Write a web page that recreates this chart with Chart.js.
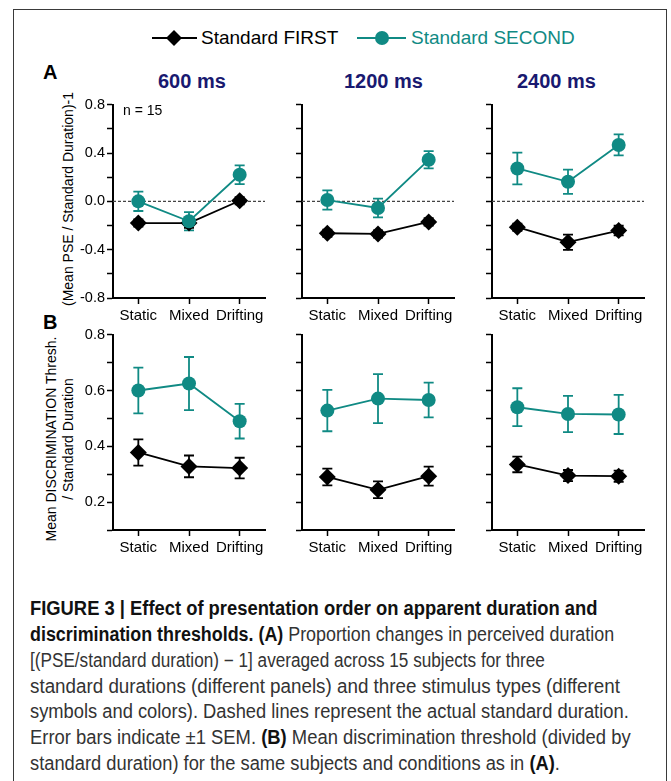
<!DOCTYPE html>
<html>
<head>
<meta charset="utf-8">
<script src="https://cdn.jsdelivr.net/npm/chart.js@4.4.0/dist/chart.umd.min.js"></script>
<style>
html,body{margin:0;padding:0;background:#fff;}
body{width:671px;height:781px;position:relative;overflow:hidden;font-family:"Liberation Sans",Arial,Helvetica,sans-serif;}
.abs{position:absolute;white-space:nowrap;}
.frame{position:absolute;left:13px;top:9px;width:654px;height:820px;border:1px solid #3a3a3a;box-sizing:border-box;}
.box{position:absolute;}
.title{font-weight:bold;font-size:20px;line-height:24px;color:#191970;}
.letter{font-weight:bold;font-size:20px;line-height:24px;color:#000;}
.leg{font-size:19px;line-height:22px;}
.ytitle{position:absolute;font-size:14px;line-height:17px;color:#000;white-space:nowrap;text-align:center;transform:translate(-50%,-50%) rotate(-90deg);}
.cap{position:absolute;left:30px;white-space:nowrap;font-family:"Liberation Sans",Arial,sans-serif;font-size:19.5px;line-height:26px;height:26px;color:#333;transform-origin:0 50%;}
.cap b{color:#111;}
</style>
</head>
<body>
<div class="frame"></div>

<!-- legend -->
<svg class="abs" style="left:150px;top:28px" width="52" height="20">
  <line x1="2" y1="10" x2="47" y2="10" stroke="#000" stroke-width="2"/>
  <polygon points="24,2 32,10 24,18 16,10" fill="#000"/>
</svg>
<div class="abs leg" id="leg1" style="left:201px;top:27px;color:#000"></div>
<svg class="abs" style="left:355px;top:28px" width="54" height="20">
  <line x1="2" y1="10" x2="51" y2="10" stroke="#108a84" stroke-width="2"/>
  <circle cx="27" cy="10" r="7" fill="#108a84"/>
</svg>
<div class="abs leg" id="leg2" style="left:411px;top:27px;color:#108a84"></div>

<div class="abs letter" style="left:43px;top:60px">A</div>
<div class="abs letter" style="left:43px;top:310px">B</div>

<div class="abs title" id="t0" style="left:158px;top:69px"></div>
<div class="abs title" id="t1" style="left:344px;top:69px"></div>
<div class="abs title" id="t2" style="left:517px;top:69px"></div>

<div class="ytitle" style="left:68px;top:199px">(Mean PSE / Standard Duration)-1</div>
<div class="ytitle" style="left:59.5px;top:439px">Mean DISCRIMINATION Thresh.<br>/ Standard Duration</div>

<div id="charts"></div>

<div class="abs" style="left:123px;top:101px;font-size:14px;line-height:18px;color:#000">n = 15</div>

<div class="cap" style="top:595px"><b>FIGURE 3 | Effect of presentation order on apparent duration and</b></div>
<div class="cap" style="top:621px"><b>discrimination thresholds. (A)</b> Proportion changes in perceived duration</div>
<div class="cap" style="top:647px">[(PSE/standard duration) − 1] averaged across 15 subjects for three</div>
<div class="cap" style="top:673px">standard durations (different panels) and three stimulus types (different</div>
<div class="cap" style="top:698px">symbols and colors). Dashed lines represent the actual standard duration.</div>
<div class="cap" style="top:724px">Error bars indicate ±1 SEM. <b>(B)</b> Mean discrimination threshold (divided by</div>
<div class="cap" style="top:750px">standard duration) for the same subjects and conditions as in <b>(A)</b>.</div>

<script>
// ---------------- data ----------------
const categories = ['Static', 'Mixed', 'Drifting'];
const durationTitles = ['600 ms', '1200 ms', '2400 ms'];
const seriesNames = ['Standard FIRST', 'Standard SECOND'];

// Panel A: (Mean PSE / Standard Duration) - 1
const pseFirst600 = [-0.18, -0.18, 0.005];
const pseFirst600Err = [0.03, 0.04, 0.03];
const pseSecond600 = [0.0, -0.165, 0.22];
const pseSecond600Err = [0.08, 0.075, 0.077];

const pseFirst1200 = [-0.264, -0.27, -0.17];
const pseFirst1200Err = [0.03, 0.03, 0.03];
const pseSecond1200 = [0.011, -0.055, 0.344];
const pseSecond1200Err = [0.08, 0.077, 0.071];

const pseFirst2400 = [-0.214, -0.338, -0.242];
const pseFirst2400Err = [0.03, 0.063, 0.04];
const pseSecond2400 = [0.272, 0.162, 0.467];
const pseSecond2400Err = [0.132, 0.10, 0.087];

// Panel B: Mean discrimination threshold / standard duration
const thrFirst600 = [0.378, 0.328, 0.322];
const thrFirst600Err = [0.047, 0.039, 0.037];
const thrSecond600 = [0.60, 0.625, 0.49];
const thrSecond600Err = [0.082, 0.095, 0.062];

const thrFirst1200 = [0.29, 0.244, 0.293];
const thrFirst1200Err = [0.03, 0.03, 0.034];
const thrSecond1200 = [0.528, 0.571, 0.566];
const thrSecond1200Err = [0.074, 0.088, 0.062];

const thrFirst2400 = [0.335, 0.295, 0.293];
const thrFirst2400Err = [0.028, 0.02, 0.02];
const thrSecond2400 = [0.54, 0.516, 0.514];
const thrSecond2400Err = [0.068, 0.065, 0.07];

// tick labels
const pseTickLabels = ['-0.8', '-0.4', '0.0', '0.4', '0.8'];
const thrTickLabels = ['0.2', '0.4', '0.6', '0.8'];

// ---------------- text ----------------
document.getElementById('leg1').textContent = seriesNames[0];
document.getElementById('leg2').textContent = seriesNames[1];
durationTitles.forEach((t, i) => document.getElementById('t' + i).textContent = t);

// caption: compress horizontally towards the reference line lengths
const capTargets = [573, 574, 486, 610, 603, 608, 533];
const capEls = Array.from(document.querySelectorAll('.cap'));
const naturals = capEls.map(el => { el.style.display = 'inline-block'; return el.getBoundingClientRect().width; });
const capGlobal = capTargets.reduce((a, b) => a + b, 0) / naturals.reduce((a, b) => a + b, 0);
capEls.forEach((el, i) => {
  const s = Math.sqrt((capTargets[i] / naturals[i]) * capGlobal);
  el.style.transform = 'scaleX(' + s + ')';
});

// ---------------- charts ----------------
const BLACK = '#000000';
const TEAL = '#108a84';

const errorBarPlugin = {
  id: 'errorBars',
  beforeDatasetsDraw(chart) {
    const ctx = chart.ctx;
    const yScale = chart.scales.y;
    chart.data.datasets.forEach((ds, di) => {
      const meta = chart.getDatasetMeta(di);
      if (!ds.errors) return;
      ctx.save();
      ctx.strokeStyle = ds.borderColor;
      ctx.lineWidth = 1.8;
      meta.data.forEach((pt, i) => {
        const v = ds.data[i], e = ds.errors[i];
        const yTop = yScale.getPixelForValue(v + e);
        const yBot = yScale.getPixelForValue(v - e);
        const x = pt.x;
        ctx.beginPath();
        ctx.moveTo(x, yTop); ctx.lineTo(x, yBot);
        ctx.moveTo(x - 5, yTop); ctx.lineTo(x + 5, yTop);
        ctx.moveTo(x - 5, yBot); ctx.lineTo(x + 5, yBot);
        ctx.stroke();
      });
      ctx.restore();
    });
  }
};

const zeroLinePlugin = {
  id: 'zeroLine',
  beforeDatasetsDraw(chart, args, opts) {
    if (!opts || !opts.enabled) return;
    const {ctx, chartArea} = chart;
    const y = chart.scales.y.getPixelForValue(0);
    ctx.save();
    ctx.strokeStyle = '#444';
    ctx.lineWidth = 1.3;
    ctx.setLineDash([3, 2]);
    ctx.beginPath();
    ctx.moveTo(chartArea.left, y);
    ctx.lineTo(chartArea.right, y);
    ctx.stroke();
    ctx.restore();
  }
};

const YW = 93, XH = 30, PLOT_W = 152, PAD_R = 10, PAD_T = 10;
const colAxisX = [113, 302, 492];

function makePanel(col, row, first, firstErr, second, secondErr) {
  const isA = row === 0;
  const left = colAxisX[col] - YW;
  const top = isA ? 104 - PAD_T : 334 - PAD_T;
  const bottom = isA ? 298 : 530;
  const width = YW + PLOT_W + PAD_R;
  const height = bottom - top + XH;
  const box = document.createElement('div');
  box.className = 'box';
  box.style.left = left + 'px';
  box.style.top = top + 'px';
  box.style.width = width + 'px';
  box.style.height = height + 'px';
  const cv = document.createElement('canvas');
  box.appendChild(cv);
  document.getElementById('charts').appendChild(box);

  const labels = isA ? pseTickLabels : thrTickLabels;
  new Chart(cv, {
    type: 'line',
    data: {
      labels: categories,
      datasets: [
        {
          label: seriesNames[0], data: first, errors: firstErr,
          borderColor: BLACK, backgroundColor: BLACK, borderWidth: 1.8,
          pointStyle: 'rectRot', pointRadius: 8.5, pointBorderWidth: 0,
          pointBackgroundColor: BLACK, tension: 0, order: 1
        },
        {
          label: seriesNames[1], data: second, errors: secondErr,
          borderColor: TEAL, backgroundColor: TEAL, borderWidth: 1.8,
          pointStyle: 'circle', pointRadius: 7, pointBorderWidth: 0,
          pointBackgroundColor: TEAL, tension: 0, order: 0
        }
      ]
    },
    options: {
      responsive: true,
      maintainAspectRatio: false,
      animation: false,
      events: [],
      layout: { autoPadding: false, padding: { left: 0, right: PAD_R, top: PAD_T, bottom: 0 } },
      plugins: {
        legend: { display: false },
        tooltip: { enabled: false },
        zeroLine: { enabled: isA }
      },
      scales: {
        x: {
          type: 'category',
          offset: true,
          afterFit(s) { s.height = XH; },
          grid: { display: true, drawOnChartArea: false, drawTicks: true, tickLength: 6, tickColor: '#000', tickWidth: 1.5, offset: false },
          border: { display: true, color: '#000', width: 2 },
          ticks: { color: '#000', padding: 3, font: { family: '"Liberation Sans", Arial, sans-serif', size: 15 }, maxRotation: 0, autoSkip: false }
        },
        y: {
          min: isA ? -0.8 : 0.1,
          max: 0.8,
          afterFit(s) { s.width = YW; },
          grid: { display: true, drawOnChartArea: false, drawTicks: true, tickLength: 6, tickColor: '#000', tickWidth: 1.5 },
          border: { display: true, color: '#000', width: 2 },
          ticks: {
            stepSize: isA ? 0.2 : 0.1,
            autoSkip: false,
            color: '#000',
            padding: 2,
            font: { family: '"Liberation Sans", Arial, sans-serif', size: 14.5 },
            callback(value) {
              if (col !== 0) return '';
              const v = Math.abs(value) < 1e-9 ? 0 : value;
              const s = v.toFixed(1);
              return labels.includes(s) ? s : '';
            }
          }
        }
      }
    },
    plugins: [errorBarPlugin, zeroLinePlugin]
  });
}

makePanel(0, 0, pseFirst600, pseFirst600Err, pseSecond600, pseSecond600Err);
makePanel(1, 0, pseFirst1200, pseFirst1200Err, pseSecond1200, pseSecond1200Err);
makePanel(2, 0, pseFirst2400, pseFirst2400Err, pseSecond2400, pseSecond2400Err);
makePanel(0, 1, thrFirst600, thrFirst600Err, thrSecond600, thrSecond600Err);
makePanel(1, 1, thrFirst1200, thrFirst1200Err, thrSecond1200, thrSecond1200Err);
makePanel(2, 1, thrFirst2400, thrFirst2400Err, thrSecond2400, thrSecond2400Err);
</script>
</body>
</html>
